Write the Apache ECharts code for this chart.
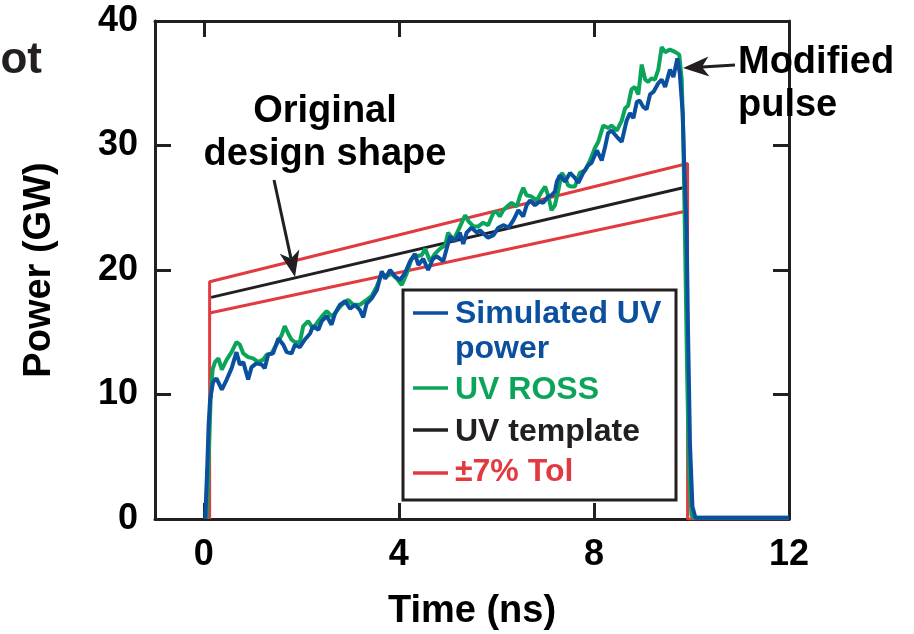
<!DOCTYPE html>
<html>
<head>
<meta charset="utf-8">
<script src="https://cdn.jsdelivr.net/npm/echarts@6/dist/echarts.min.js"></script>
<style>
  html, body { margin: 0; padding: 0; background: #fff; }
  #chart { width: 914px; height: 634px; }
</style>
</head>
<body>
<div id="chart"></div>
<script>
// tick labels
var xTicks = [0, 4, 8, 12];

// values, [time ns, power GW]
var simulatedUV = [
  [0.03,0],[0.07,4.0],[0.1,7.6],[0.13,9.6],[0.19,11.0],[0.26,11.3],[0.37,10.4],[0.47,11.2],[0.57,12.1],[0.67,13.4],
  [0.74,12.4],[0.81,12.6],[0.91,11.2],[0.98,12.2],[1.08,12.5],[1.19,12.4],[1.25,12.1],[1.32,13.2],[1.42,13.3],[1.53,14.5],
  [1.63,14.0],[1.70,13.4],[1.80,13.3],[1.87,14.0],[1.97,13.8],[2.07,14.4],[2.18,14.9],[2.24,15.5],[2.35,15.2],[2.42,15.9],
  [2.52,16.3],[2.62,15.6],[2.69,16.5],[2.79,17.2],[2.90,17.5],[3.0,16.9],[3.10,17.2],[3.20,16.8],[3.27,16.2],[3.34,17.3],
  [3.44,17.7],[3.55,18.4],[3.65,19.9],[3.72,19.3],[3.82,20.0],[3.92,19.5],[4.02,19.2],[4.12,19.7],[4.23,20.7],[4.33,21.3],
  [4.40,20.4],[4.50,20.9],[4.60,20.0],[4.70,20.9],[4.78,21.1],[4.91,20.7],[4.98,21.7],[5.05,22.7],[5.15,22.3],[5.25,23.0],
  [5.32,22.1],[5.39,23.0],[5.49,23.4],[5.60,23.0],[5.66,23.2],[5.77,22.8],[5.83,22.6],[5.94,22.8],[6.04,23.4],[6.14,23.6],
  [6.25,23.4],[6.35,24.0],[6.45,24.8],[6.55,24.3],[6.62,25.2],[6.69,25.6],[6.79,25.2],[6.89,25.5],[6.96,25.4],[7.06,25.9],
  [7.13,26.0],[7.20,26.3],[7.24,27.1],[7.30,27.6],[7.41,27.1],[7.51,27.8],[7.61,27.4],[7.68,27.0],[7.78,27.8],[7.88,28.4],
  [7.95,28.6],[8.06,29.6],[8.16,28.8],[8.23,29.9],[8.29,31.0],[8.36,31.2],[8.47,30.7],[8.57,30.3],[8.67,32.0],[8.74,32.6],
  [8.81,32.2],[8.88,33.5],[8.94,33.6],[9.01,33.1],[9.08,32.9],[9.15,34.1],[9.22,34.3],[9.32,35.0],[9.39,35.3],[9.46,34.7],
  [9.56,36.1],[9.63,35.5],[9.71,37.0],[9.76,35.8],[9.82,32.6],[9.85,28.6],[9.90,23.2],[9.93,15],[9.97,6],[10.02,1],
  [10.08,0.1],[12,0.1]
];
var uvRoss = [
  [0.06,0],[0.1,5],[0.14,9.5],[0.18,12.0],[0.23,12.6],[0.30,12.9],[0.37,12.0],[0.47,12.8],[0.57,13.4],[0.67,14.2],
  [0.74,14.0],[0.81,13.3],[0.91,13.0],[1.01,12.9],[1.12,12.6],[1.22,12.8],[1.29,13.2],[1.39,13.3],[1.50,14.1],[1.60,14.8],
  [1.66,15.5],[1.73,14.9],[1.80,14.4],[1.87,14.2],[1.97,14.2],[2.04,15.5],[2.14,15.9],[2.24,15.3],[2.35,15.9],[2.45,16.4],
  [2.52,16.7],[2.62,16.3],[2.69,16.5],[2.76,16.9],[2.83,17.2],[2.96,17.6],[3.07,17.2],[3.20,17.2],[3.34,17.6],[3.44,17.9],
  [3.55,18.7],[3.65,19.7],[3.75,19.5],[3.85,19.7],[3.96,19.3],[4.06,18.8],[4.16,19.7],[4.26,20.9],[4.37,21.1],[4.47,21.2],
  [4.54,21.7],[4.64,20.7],[4.74,21.3],[4.84,21.7],[4.95,22.0],[5.01,23.0],[5.12,22.4],[5.22,23.2],[5.29,23.8],[5.36,24.4],
  [5.43,23.9],[5.53,23.5],[5.63,23.5],[5.73,23.8],[5.83,23.6],[5.94,24.6],[6.0,24.7],[6.07,24.3],[6.14,24.8],[6.25,25.2],
  [6.31,25.4],[6.42,25.1],[6.48,25.9],[6.55,26.6],[6.62,26.0],[6.72,25.9],[6.83,25.6],[6.93,26.3],[7.0,26.7],[7.06,26.0],
  [7.13,24.8],[7.20,25.2],[7.27,26.4],[7.34,27.8],[7.41,27.4],[7.47,26.8],[7.54,26.7],[7.61,26.7],[7.71,27.8],[7.82,28.0],
  [7.92,28.8],[8.02,29.8],[8.09,30.3],[8.19,31.6],[8.29,31.4],[8.36,31.6],[8.47,31.2],[8.57,32.0],[8.64,33.0],[8.70,33.2],
  [8.77,34.5],[8.84,34.7],[8.91,34.1],[8.98,36.5],[9.05,35.3],[9.11,35.1],[9.18,35.4],[9.25,35.3],[9.32,36.1],[9.39,37.9],
  [9.46,37.5],[9.56,37.7],[9.67,37.5],[9.75,37.3],[9.80,35.3],[9.83,31.2],[9.87,22],[9.91,12],[9.95,4],[10.0,0.3],
  [10.05,0.1],[12,0.1]
];
var uvTemplate = [[0.15,17.8],[9.83,26.6]];
var tolUpper = [[0.12,0],[0.12,19.05],[9.92,28.55],[9.92,0],[12,0]];
var tolLower = [[0.12,16.55],[9.88,24.72]];

var BLUE = '#0b4f9f', GREEN = '#0aa55a', RED = '#e13a40', BLACK = '#231f20';
var FONT = "'Liberation Sans', Arial, Helvetica, sans-serif";

var chart = echarts.init(document.getElementById('chart'));

function lbl(size) {
  return { fontFamily: FONT, fontWeight: 'bold', fontSize: size, color: '#000' };
}

// arrow: straight shaft + notched head, pixel coordinates
function arrow(x1, y1, x2, y2) {
  var dx = x2 - x1, dy = y2 - y1, len = Math.sqrt(dx * dx + dy * dy);
  var ux = dx / len, uy = dy / len, px = -uy, py = ux;
  var L = 26, W = 10, N = 19;
  var bx = x2 - ux * L, by = y2 - uy * L;
  return [
    { type: 'line', shape: { x1: x1, y1: y1, x2: x2 - ux * N, y2: y2 - uy * N }, style: { stroke: BLACK, lineWidth: 3 }, z: 20 },
    { type: 'polygon', shape: { points: [[x2, y2], [bx + px * W, by + py * W], [x2 - ux * N, y2 - uy * N], [bx - px * W, by - py * W]] },
      style: { fill: BLACK }, z: 20 }
  ];
}

function legendRow(y, color, lines, ly) {
  var out = [{ type: 'line', shape: { x1: 413, y1: ly, x2: 448, y2: ly }, style: { stroke: color, lineWidth: 3.5 }, z: 31 }];
  lines.forEach(function (t, i) {
    out.push({ type: 'text', x: 455, y: y + i * 35, z: 31,
      style: { text: t, fill: color, font: 'bold 32px ' + FONT, textVerticalAlign: 'middle' } });
  });
  return out;
}

var graphics = [].concat(
  [{ type: 'text', x: 42, y: 83, z: 20, style: { text: 'ot', fill: BLACK, font: 'bold 44px ' + FONT, textAlign: 'right', textVerticalAlign: 'bottom' } },
   { type: 'text', x: 325, y: 112, z: 20, style: { text: 'Original', fill: '#000', font: 'bold 38px ' + FONT, textAlign: 'center', textVerticalAlign: 'middle' } },
   { type: 'text', x: 325, y: 155, z: 20, style: { text: 'design shape', fill: '#000', font: 'bold 38px ' + FONT, textAlign: 'center', textVerticalAlign: 'middle' } },
   { type: 'text', x: 738, y: 63, z: 20, style: { text: 'Modified', fill: '#000', font: 'bold 38px ' + FONT, textVerticalAlign: 'middle' } },
   { type: 'text', x: 738, y: 106, z: 20, style: { text: 'pulse', fill: '#000', font: 'bold 38px ' + FONT, textVerticalAlign: 'middle' } }],
  arrow(274, 180, 295, 277),
  arrow(735, 65, 683, 68),
  [{ type: 'rect', shape: { x: 403, y: 290, width: 273, height: 210 }, style: { fill: '#fff', stroke: BLACK, lineWidth: 3 }, z: 30 }],
  legendRow(314, BLUE, ['Simulated UV', 'power'], 313),
  legendRow(390, GREEN, ['UV ROSS'], 388),
  legendRow(432, BLACK, ['UV template'], 430),
  legendRow(472, RED, ['\u00b17% Tol'], 473)
);

var axisLine = { onZero: false, lineStyle: { color: BLACK, width: 3 } };
var tick = { inside: true, length: 16, lineStyle: { color: BLACK, width: 3 } };

chart.setOption({
  animation: false,
  backgroundColor: '#fff',
  grid: { left: 155, top: 21, right: 125, bottom: 115, outerBoundsMode: 'none' },
  xAxis: [
    { type: 'value', min: -1, max: 12, position: 'bottom',
      axisLine: axisLine, axisTick: Object.assign({ customValues: xTicks }, tick),
      axisLabel: Object.assign({ customValues: xTicks, margin: 18 }, lbl(36)),
      splitLine: { show: false },
      name: 'Time (ns)', nameLocation: 'middle', nameGap: 74, nameTextStyle: lbl(38) },
    { type: 'value', min: -1, max: 12, position: 'top',
      axisLine: axisLine, axisTick: Object.assign({ customValues: xTicks }, tick),
      axisLabel: { show: false, customValues: xTicks }, splitLine: { show: false } }
  ],
  yAxis: [
    { type: 'value', min: 0, max: 40, interval: 10, position: 'left',
      axisLine: axisLine, axisTick: tick,
      axisLabel: Object.assign({ margin: 17 }, lbl(36)),
      splitLine: { show: false },
      name: 'Power (GW)', nameLocation: 'middle', nameGap: 96, nameRotate: 90, nameTextStyle: lbl(38) },
    { type: 'value', min: 0, max: 40, interval: 10, position: 'right',
      axisLine: axisLine, axisTick: tick, axisLabel: { show: false }, splitLine: { show: false } }
  ],
  series: [
    { name: '±7% Tol', type: 'line', data: tolUpper, showSymbol: false, lineStyle: { color: RED, width: 3 }, z: 2 },
    { name: '±7% Tol low', type: 'line', data: tolLower, showSymbol: false, lineStyle: { color: RED, width: 3 }, z: 2 },
    { name: 'UV template', type: 'line', data: uvTemplate, showSymbol: false, lineStyle: { color: BLACK, width: 3 }, z: 3 },
    { name: 'UV ROSS', type: 'line', data: uvRoss, showSymbol: false, lineStyle: { color: GREEN, width: 4 }, z: 4 },
    { name: 'Simulated UV power', type: 'line', data: simulatedUV, showSymbol: false, lineStyle: { color: BLUE, width: 4 }, z: 5 }
  ],
  graphic: graphics
});
</script>
</body>
</html>
